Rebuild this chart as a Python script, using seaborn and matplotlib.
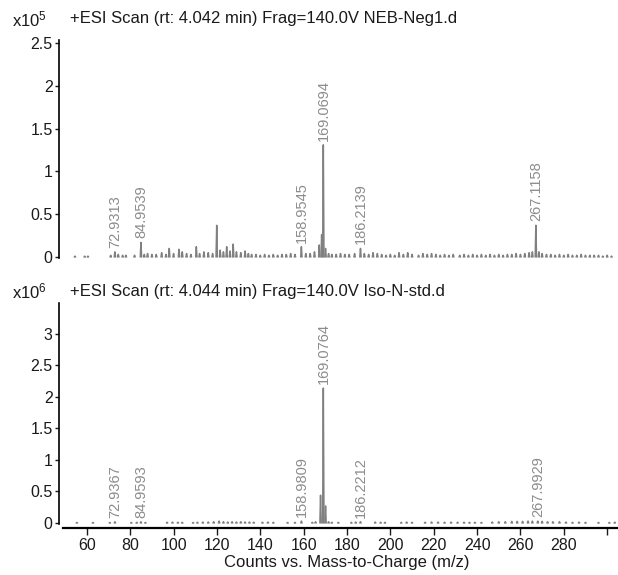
import matplotlib
matplotlib.use("Agg")
import matplotlib.pyplot as plt
import seaborn as sns
import pandas as pd
import numpy as np

# ---------------- data ----------------
# top spectrum (x10^5 counts)
top_mz = [54.5, 59.0, 60.5, 71.0, 72.9313, 74.5, 76.5, 78.0, 82.0, 84.9539, 86.5, 88.0, 90.0,
          92.0, 94.5, 96.5, 98.0, 100.0, 102.5, 104.0, 106.0, 108.0, 110.5, 112.0, 114.0,
          116.0, 118.0, 119.9, 121.5, 123.0, 124.5, 126.0, 127.5, 129.0, 131.0, 133.0,
          134.5, 136.0, 138.0, 140.0, 142.0, 144.0, 146.0, 148.0, 150.0, 152.0, 154.0,
          156.0, 158.9545, 161.0, 163.0, 165.0, 167.2, 168.3, 169.0694, 170.1, 171.5,
          173.0, 175.0, 177.0, 179.0, 181.0, 183.5, 186.2139, 188.0, 190.0, 192.0, 194.0,
          196.0, 198.0, 200.0, 202.0, 204.0, 206.0, 208.0, 210.0, 213.0, 215.0, 217.0,
          219.0, 221.0, 223.0, 225.0, 227.0, 229.0, 232.0, 234.0, 236.0, 238.0, 240.0,
          242.0, 244.0, 246.0, 248.0, 250.0, 252.0, 254.0, 256.0, 258.0, 260.0, 262.0,
          264.0, 265.5, 267.1158, 268.5, 270.0, 272.0, 274.0, 276.0, 278.0, 280.0, 282.0,
          284.0, 286.0, 288.0, 290.0, 292.0, 294.0, 296.0, 298.0, 300.0, 302.0]
top_int = [0.01, 0.01, 0.01, 0.02, 0.06, 0.03, 0.02, 0.02, 0.02, 0.17, 0.03, 0.04, 0.03,
           0.03, 0.05, 0.03, 0.10, 0.04, 0.09, 0.06, 0.04, 0.03, 0.12, 0.04, 0.06,
           0.05, 0.04, 0.37, 0.08, 0.06, 0.12, 0.07, 0.15, 0.06, 0.05, 0.07,
           0.04, 0.03, 0.03, 0.02, 0.03, 0.02, 0.03, 0.02, 0.03, 0.03, 0.04,
           0.03, 0.12, 0.04, 0.04, 0.06, 0.14, 0.26, 1.31, 0.10, 0.04,
           0.03, 0.03, 0.04, 0.03, 0.03, 0.04, 0.10, 0.04, 0.03, 0.05, 0.04,
           0.03, 0.02, 0.03, 0.02, 0.05, 0.03, 0.05, 0.03, 0.02, 0.04, 0.03,
           0.04, 0.03, 0.02, 0.03, 0.02, 0.03, 0.02, 0.03, 0.02, 0.03, 0.02,
           0.03, 0.02, 0.03, 0.02, 0.03, 0.02, 0.03, 0.03, 0.04, 0.03, 0.04,
           0.05, 0.06, 0.37, 0.06, 0.04, 0.03, 0.03, 0.02, 0.03, 0.02, 0.03,
           0.02, 0.02, 0.03, 0.02, 0.02, 0.02, 0.02, 0.01, 0.02, 0.01]
top_labels_mz = [72.9313, 84.9539, 158.9545, 169.0694, 186.2139, 267.1158]

# bottom spectrum (x10^6 counts)
bot_mz = [55.4, 62.8, 70.6, 72.9367, 80.5, 83.0, 84.9593, 87.0, 97.0, 99.5, 102.0, 104.0,
          109.0, 111.0, 113.5, 116.0, 118.5, 121.0, 123.0, 125.0, 127.0, 129.0, 131.0,
          133.0, 135.0, 137.0, 141.0, 143.5, 146.0, 152.6, 156.0, 158.9809, 164.0, 165.5,
          167.8, 169.0764, 170.1, 171.5, 173.0, 176.0, 182.0, 184.0, 186.2212, 193.0,
          195.5, 197.5, 205.0, 207.5, 210.0, 216.0, 219.0, 222.0, 225.0, 228.0, 231.0,
          234.0, 236.5, 239.0, 242.0, 247.0, 250.0, 253.0, 256.0, 258.5, 261.0, 263.5,
          265.5, 267.9929, 270.0, 272.5, 275.0, 278.0, 281.0, 284.0, 287.0, 290.0,
          296.0, 301.0, 303.5]
bot_int = [0.008, 0.008, 0.008, 0.02, 0.008, 0.01, 0.02, 0.008, 0.012, 0.015, 0.012, 0.01,
           0.008, 0.012, 0.015, 0.015, 0.02, 0.03, 0.02, 0.015, 0.02, 0.015, 0.02,
           0.015, 0.015, 0.012, 0.012, 0.015, 0.01, 0.008, 0.01, 0.03, 0.01, 0.02,
           0.44, 2.14, 0.27, 0.02, 0.01, 0.01, 0.01, 0.015, 0.02, 0.015,
           0.012, 0.01, 0.01, 0.015, 0.01, 0.012, 0.015, 0.015, 0.012, 0.015, 0.012,
           0.012, 0.01, 0.01, 0.008, 0.015, 0.02, 0.02, 0.025, 0.025, 0.025, 0.03,
           0.03, 0.03, 0.025, 0.02, 0.02, 0.02, 0.015, 0.01, 0.015, 0.01,
           0.008, 0.008, 0.012]
bot_labels_mz = [72.9367, 84.9593, 158.9809, 169.0764, 186.2212, 267.9929]

title_top = "+ESI Scan (rt: 4.042 min) Frag=140.0V NEB-Neg1.d"
title_bot = "+ESI Scan (rt: 4.044 min) Frag=140.0V Iso-N-std.d"
exp_top = r"x10$^{5}$"
exp_bot = r"x10$^{6}$"
x_ticks = [60, 80, 100, 120, 140, 160, 180, 200, 220, 240, 260, 280, 300]
x_ticklabels = ["60", "80", "100", "120", "140", "160", "180", "200", "220", "240", "260", "280", ""]
top_yticks = [0, 0.5, 1, 1.5, 2, 2.5]
top_yticklabels = ["0", "0.5", "1", "1.5", "2", "2.5"]
bot_yticks = [0, 0.5, 1, 1.5, 2, 2.5, 3]
bot_yticklabels = ["0", "0.5", "1", "1.5", "2", "2.5", "3"]
xlabel = "Counts vs. Mass-to-Charge (m/z)"

# ---------------- style ----------------
sns.set_theme(style="white")
plt.rcParams["font.family"] = ["Liberation Sans", "DejaVu Sans"]
plt.rcParams["mathtext.fontset"] = "custom"
plt.rcParams["mathtext.rm"] = "Liberation Sans"
plt.rcParams["mathtext.it"] = "Liberation Sans"

PEAK = "#808080"
LABEL = "#8c8c8c"
TXT = "#1a1a1a"
FS_LAB = 10.5
FS_TICK = 11.5
FS_TITLE = 12


def stick_frame(mz, inten, half=0.3):
    rows = []
    for i, (m, h) in enumerate(zip(mz, inten)):
        rows.append((i, 0, m - half, 0.0))
        rows.append((i, 1, m, h))
        rows.append((i, 2, m + half, 0.0))
    return pd.DataFrame(rows, columns=["peak", "k", "mz", "I"])


W, H = 618, 575
fig = plt.figure(figsize=(W / 100, H / 100), dpi=100)
ax1 = fig.add_axes([63 / W, (H - 257.5) / H, 555 / W, 217.5 / H])
ax2 = fig.add_axes([63 / W, (H - 523.5) / H, 555 / W, 220.5 / H])

for ax, mz, inten, labs, ylim, yt, ytl in [
    (ax1, top_mz, top_int, top_labels_mz, (-0.006, 2.535), top_yticks, top_yticklabels),
    (ax2, bot_mz, bot_int, bot_labels_mz, (-0.008, 3.49), bot_yticks, bot_yticklabels),
]:
    df = stick_frame(mz, inten)
    sns.lineplot(data=df, x="mz", y="I", units="peak", estimator=None, sort=False,
                 color=PEAK, linewidth=1.1, ax=ax, legend=False)
    lookup = dict(zip(mz, inten))
    for m in labs:
        ax.annotate(f"{m:.4f}", xy=(m, lookup[m]), xytext=(0.5, 4),
                    textcoords="offset pixels", rotation=90, ha="center", va="bottom",
                    fontsize=FS_LAB, color=LABEL)
    ax.set_xlim(49, 305)
    ax.set_ylim(*ylim)
    ax.set_yticks(yt)
    ax.set_yticklabels(ytl)
    ax.set_xlabel("")
    ax.set_ylabel("")
    for s in ["top", "right"]:
        ax.spines[s].set_visible(False)
    ax.spines["left"].set_position(("outward", 3))
    ax.spines["left"].set_linewidth(1.2)
    ax.spines["left"].set_color("black")
    ax.tick_params(axis="y", which="both", left=True, length=3, width=1.0,
                   direction="out", labelsize=FS_TICK, colors=TXT, pad=1.5)
    ax.patch.set_alpha(0)

ax1.spines["bottom"].set_visible(False)
ax1.set_xticks([])

ax2.spines["bottom"].set_position(("outward", 3.5))
ax2.spines["bottom"].set_linewidth(1.6)
ax2.spines["bottom"].set_color("black")
ax2.set_xticks(x_ticks)
ax2.set_xticklabels(x_ticklabels)
ax2.tick_params(axis="x", bottom=True, length=5, width=1.0, direction="out",
                labelsize=FS_TICK, colors=TXT, pad=2)

fig.text(12 / W, 1 - 19 / H, exp_top, fontsize=FS_TITLE, color=TXT, va="center", ha="left")
fig.text(70 / W, 1 - 19 / H, title_top, fontsize=FS_TITLE, color=TXT, va="center", ha="left")
fig.text(12 / W, 1 - 291 / H, exp_bot, fontsize=FS_TITLE, color=TXT, va="center", ha="left")
fig.text(70 / W, 1 - 291 / H, title_bot, fontsize=FS_TITLE, color=TXT, va="center", ha="left")
fig.text(347 / W, 1 - 563 / H, xlabel, fontsize=FS_TITLE, color=TXT, va="center", ha="center")

fig.savefig("out.png", dpi=100)
